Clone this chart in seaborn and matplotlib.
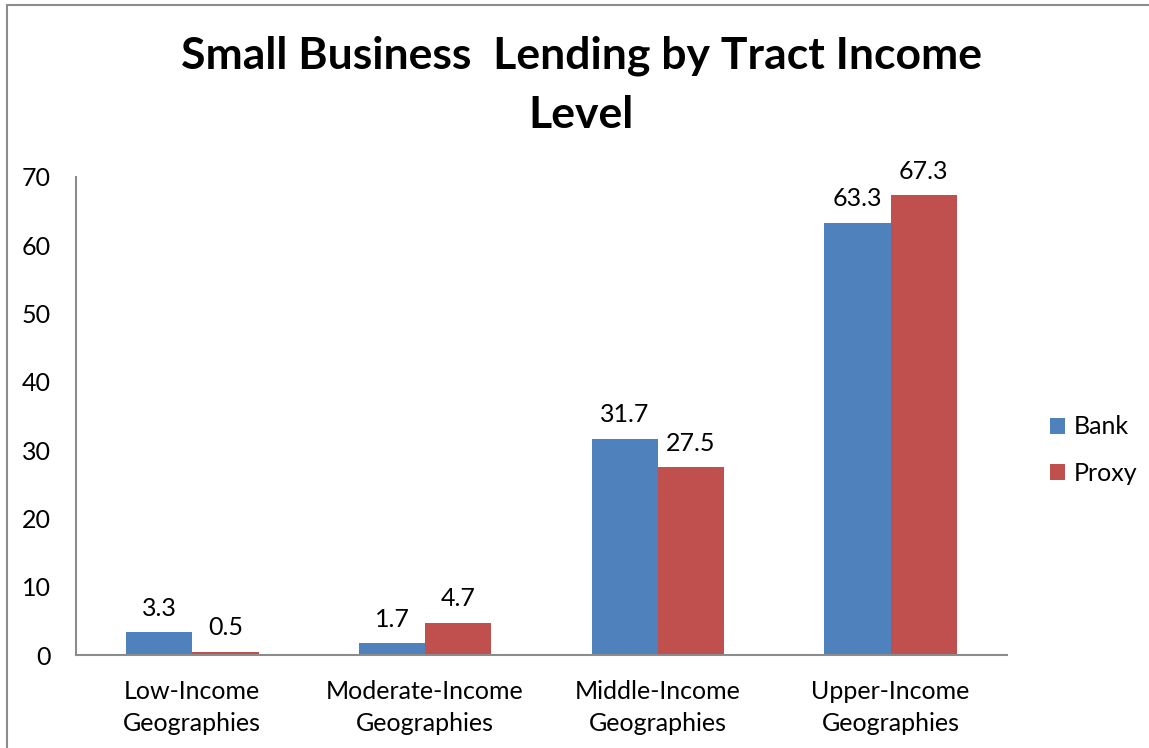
import matplotlib
matplotlib.use("Agg")
import matplotlib.pyplot as plt
from matplotlib.lines import Line2D
import seaborn as sns
import pandas as pd

categories = ["Low-Income\nGeographies", "Moderate-Income\nGeographies",
              "Middle-Income\nGeographies", "Upper-Income\nGeographies"]
series_names = ["Bank", "Proxy"]
bank = [3.3, 1.7, 31.7, 63.3]
proxy = [0.5, 4.7, 27.5, 67.3]
y_ticks = [0, 10, 20, 30, 40, 50, 60, 70]

df = pd.DataFrame({
    "category": categories * 2,
    "series": [series_names[0]] * len(bank) + [series_names[1]] * len(proxy),
    "value": bank + proxy,
})

sns.set_style("white")
plt.rcParams["font.family"] = ["Lato", "DejaVu Sans"]
plt.rcParams["text.color"] = "black"

fig = plt.figure(figsize=(11.49, 7.48), dpi=100)
ax = fig.add_axes([0.0661, 0.1243, 0.8103, 0.6391])

palette = {"Bank": "#4F81BD", "Proxy": "#C0504D"}
sns.barplot(data=df, x="category", y="value", hue="series", palette=palette,
            width=0.57, saturation=1, ax=ax, linewidth=0, legend=True)

for container in ax.containers:
    ax.bar_label(container, fmt="%.1f", padding=9, fontsize=18, color="black")

ax.set_ylim(0, 70)
ax.set_yticks(y_ticks)
ax.set_xlim(-0.5, 3.5)
ax.set_xlabel("")
ax.set_ylabel("")
ax.tick_params(axis="both", length=0, labelsize=18, colors="black")
ax.tick_params(axis="x", pad=18)
ax.tick_params(axis="y", pad=18)
for lbl in ax.get_xticklabels():
    lbl.set_linespacing(1.45)

for side in ["top", "right"]:
    ax.spines[side].set_visible(False)
for side in ["left", "bottom"]:
    ax.spines[side].set_color("#8C8C8C")
    ax.spines[side].set_linewidth(1.5)

leg = ax.legend(loc="center left", bbox_to_anchor=(0.905, 0.398),
                bbox_transform=fig.transFigure, frameon=False, fontsize=18,
                handlelength=0.6, handleheight=0.6, handletextpad=0.35,
                labelspacing=0.95, borderaxespad=0)
for t in leg.get_texts():
    t.set_color("black")

fig.suptitle("Small Business  Lending by Tract Income\nLevel", x=0.506, y=0.952,
             fontsize=32, fontweight="bold", linespacing=1.55, va="top",
             color="black")

# outer frame of the chart area
fig.add_artist(Line2D([0.0061, 0.0061], [0.0, 0.9933], transform=fig.transFigure,
                      color="#8C8C8C", linewidth=1.5))
fig.add_artist(Line2D([0.0061, 1.0], [0.9933, 0.9933], transform=fig.transFigure,
                      color="#8C8C8C", linewidth=1.5))

fig.savefig("out.png", dpi=100)
